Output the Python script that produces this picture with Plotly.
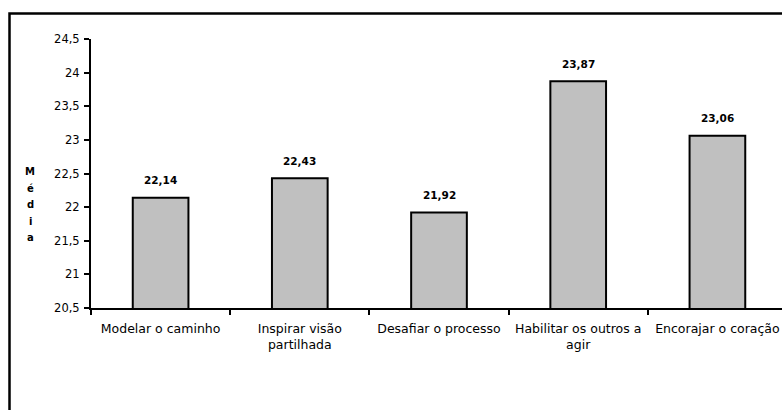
import plotly.graph_objects as go

# Leadership practice scores (mean per dimension)
categories = [
    "Modelar o caminho",
    "Inspirar visão partilhada",
    "Desafiar o processo",
    "Habilitar os outros a agir",
    "Encorajar o coração",
]
tick_labels = [
    "Modelar o caminho",
    "Inspirar visão<br>partilhada",
    "Desafiar o processo",
    "Habilitar os outros a<br>agir",
    "Encorajar o coração",
]
means = [22.14, 22.43, 21.92, 23.87, 23.06]

y_ticks = [20.5, 21, 21.5, 22, 22.5, 23, 23.5, 24, 24.5]
y_tick_text = ["20,5", "21", "21,5", "22", "22,5", "23", "23,5", "24", "24,5"]
axis_title = "Média"

W, H = 782, 410
M_L, M_R, M_T, M_B = 91, 0, 39, 102
plot_w = W - M_L - M_R
plot_h = H - M_T - M_B


def px_to_paper_x(px):
    return (px - M_L) / plot_w


def px_to_paper_y(py):
    return (H - M_B - py) / plot_h


font_family = "DejaVu Sans"

fig = go.Figure(
    go.Bar(
        x=tick_labels,
        y=means,
        width=0.4,
        marker=dict(color="#C0C0C0", line=dict(color="black", width=2)),
        hoverinfo="skip",
    )
)

# value labels above the bars
for lab, v in zip(tick_labels, means):
    fig.add_annotation(
        x=lab, y=v, xref="x", yref="y",
        text=f"<b>{v:.2f}</b>".replace(".", ","),
        showarrow=False, yanchor="middle", yshift=17.5,
        font=dict(family=font_family, size=10.5, color="black"),
    )

# vertical, stacked axis title
for i, ch in enumerate(axis_title):
    fig.add_annotation(
        x=px_to_paper_x(30), y=px_to_paper_y(171.5 + i * 16.6),
        xref="paper", yref="paper",
        text=f"<b>{ch}</b>", showarrow=False,
        xanchor="center", yanchor="middle",
        font=dict(family=font_family, size=10, color="black"),
    )

# frame around the chart area
fig.add_shape(
    type="rect", xref="paper", yref="paper",
    x0=px_to_paper_x(9.5), x1=px_to_paper_x(900),
    y0=px_to_paper_y(500), y1=px_to_paper_y(13.5),
    line=dict(color="black", width=2.5), fillcolor="rgba(0,0,0,0)",
    layer="below",
)

fig.update_layout(
    width=W, height=H,
    margin=dict(l=M_L, r=M_R, t=M_T, b=M_B, pad=0),
    paper_bgcolor="white", plot_bgcolor="white",
    showlegend=False,
    font=dict(family=font_family, color="black"),
    xaxis=dict(
        type="category",
        range=[-0.5, 4.5 - 5 / 139],
        showline=True, linecolor="black", linewidth=2,
        ticks="outside", tickson="boundaries", ticklen=5, tickwidth=1.5,
        tickcolor="black", showgrid=False, zeroline=False,
        ticklabelstandoff=8,
        tickfont=dict(family=font_family, size=12.5, color="black"),
    ),
    yaxis=dict(
        range=[20.5, 24.5],
        tickvals=y_ticks, ticktext=y_tick_text,
        showline=True, linecolor="black", linewidth=2,
        ticks="outside", ticklen=5, tickwidth=2, tickcolor="black",
        showgrid=False, zeroline=False,
        ticklabelstandoff=2,
        tickfont=dict(family=font_family, size=11.5, color="black"),
    ),
)

fig.write_html("out.html")
